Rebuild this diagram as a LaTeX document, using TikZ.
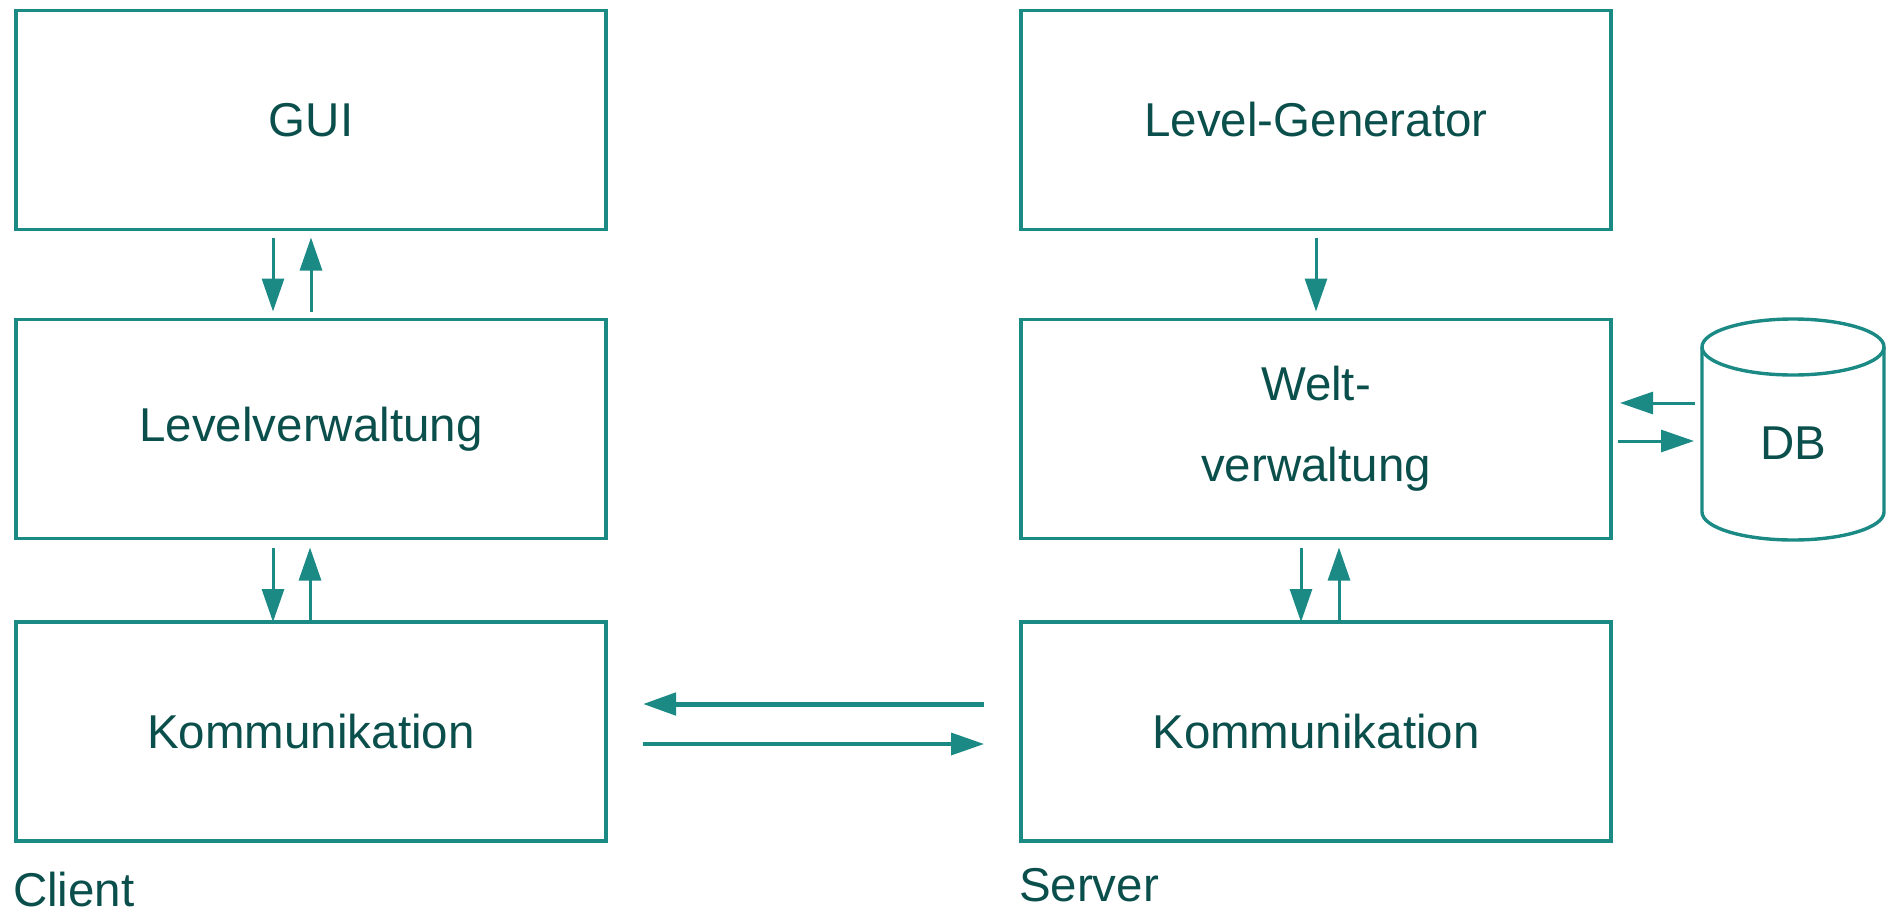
\documentclass[tikz,border=0pt]{standalone}
\usepackage{fontspec}
\setmainfont{Liberation Sans}
\usetikzlibrary{arrows.meta}
\definecolor{tealline}{HTML}{1B8A85}
\definecolor{tealtext}{HTML}{0A4F4B}
\tikzset{
  box/.style={draw=tealline, line width=3.4pt, minimum width=590pt, minimum height=219pt,
    inner sep=0pt, outer sep=0pt, text=tealtext, font=\fontsize{47.5}{81}\selectfont, align=center},
  lbl/.style={inner sep=0pt, outer sep=0pt, text=tealtext, font=\fontsize{47.5}{57}\selectfont},
  arr/.style={draw=tealline, line width=3pt, -{Triangle[length=33pt,width=22pt]}, color=tealline},
}
\begin{document}
\begin{tikzpicture}[x=1pt,y=1pt]
\useasboundingbox (0,0) rectangle (1893,-914);
% client column
\node[box] (gui) at (311,-120) {GUI};
\node[box] (lev) at (311,-429) {Levelverwaltung};
\node[box] (kc) at (311,-731.5) {Kommunikation};
% server column
\node[box] (gen) at (1316,-120) {Level-Generator};
\node[box] (welt) at (1316,-429) {Welt-\\verwaltung};
\node[box] (ks) at (1316,-731.5) {Kommunikation};
% DB cylinder
\draw[tealline, line width=3.4pt] (1702,-347) -- (1702,-512) arc (180:360:91pt and 28pt) -- (1884,-347);
\draw[tealline, line width=3.4pt] (1793,-347) ellipse (91pt and 28pt);
\node[lbl, minimum width=182pt] (db) at (1793,-443) {DB};
% labels
\node[lbl, anchor=west] (client) at (13,-890) {Client};
\node[lbl, anchor=west] (server) at (1019,-885) {Server};
% client arrows
\draw[arr] ([xshift=-38pt,yshift=-8pt]gui.south) -- ([xshift=-38pt,yshift=8pt]lev.north);
\draw[arr] ([yshift=8pt]lev.north) -- ([yshift=-8pt]gui.south);
\draw[arr] ([xshift=-38pt,yshift=-9pt]lev.south) -- ([xshift=-38pt]kc.north);
\draw[arr] ([xshift=-1pt]kc.north) -- ([xshift=-1pt,yshift=-9pt]lev.south);
% server arrows
\draw[arr] ([yshift=-8pt]gen.south) -- ([yshift=8pt]welt.north);
\draw[arr] ([xshift=-15pt,yshift=-9pt]welt.south) -- ([xshift=-15pt]ks.north);
\draw[arr] ([xshift=23pt]ks.north) -- ([xshift=23pt,yshift=-9pt]welt.south);
% DB arrows
\draw[arr] ([xshift=-7pt,yshift=40pt]db.west) -- ([xshift=9pt,yshift=26pt]welt.east);
\draw[arr] ([xshift=7pt,yshift=-12pt]welt.east) -- ([xshift=-8pt,yshift=2pt]db.west);
% communication arrows
\draw[arr, line width=5pt] ([xshift=-37pt,yshift=27.5pt]ks.west) -- ([xshift=37pt,yshift=27.5pt]kc.east);
\draw[arr, line width=3.5pt] ([xshift=37pt,yshift=-12.5pt]kc.east) -- ([xshift=-37pt,yshift=-12.5pt]ks.west);
\end{tikzpicture}
\end{document}
